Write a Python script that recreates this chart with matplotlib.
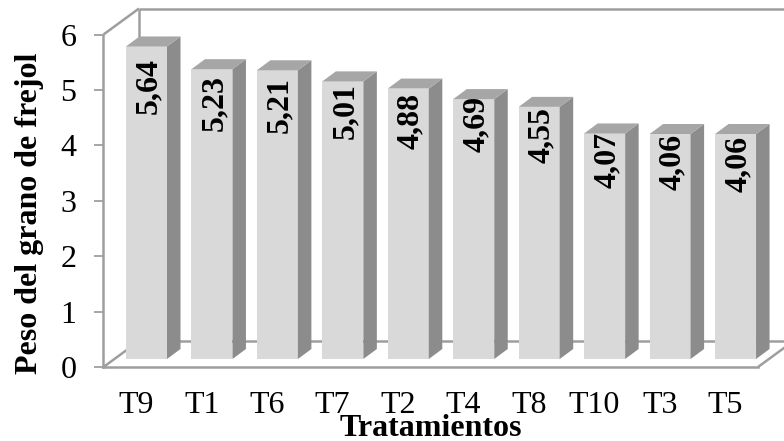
import matplotlib
matplotlib.use("Agg")
import matplotlib.pyplot as plt
from matplotlib.patches import Polygon

plt.rcParams["font.family"] = ["Liberation Serif", "DejaVu Serif"]

categories = ["T9", "T1", "T6", "T7", "T2", "T4", "T8", "T10", "T3", "T5"]
weights = [5.64, 5.23, 5.21, 5.01, 4.88, 4.69, 4.55, 4.07, 4.06, 4.06]
value_labels = ["5,64", "5,23", "5,21", "5,01", "4,88", "4,69", "4,55", "4,07", "4,06", "4,06"]
y_ticks = [0, 1, 2, 3, 4, 5, 6]

# hand-placed drop of each value label below its column top, in pixels
label_drops = [39.5, 34, 34.5, 30, 32.5, 24.5, 28, 26.5, 28, 30]

W, H = 784, 441
LEFT, RIGHT, BOTTOM, TOP = 103.5, 758.0, 367.0, 34.5
FRONT = "#D9D9D9"
SIDE = "#8C8C8C"
CAP = "#A6A6A6"
FRAME = "#9E9E9E"

fig = plt.figure(figsize=(W / 100, H / 100), dpi=100, facecolor="white")
ax = fig.add_axes([LEFT / W, 1 - BOTTOM / H, (RIGHT - LEFT) / W, (BOTTOM - TOP) / H])
ax.set_xlim(0, len(categories))
ax.set_ylim(0, 6)

# pixel sizes expressed in data units, for the oblique projection
px_x = len(categories) / (RIGHT - LEFT)
px_y = 6 / (BOTTOM - TOP)
wall_dx, wall_dy = 35.5 * px_x, 26 * px_y
bar_dx, bar_dy = 13.5 * px_x, 10 * px_y
bar_left, bar_width, bar_base = 22.5 * px_x, 41 * px_x, 8 * px_y

# back wall and floor of the box
lw = 1.8
frame_lines = [
    ([0, wall_dx], [6, 6 + wall_dy]),
    ([wall_dx, wall_dx], [wall_dy, 6 + wall_dy]),
    ([wall_dx, 12], [6 + wall_dy, 6 + wall_dy]),
    ([0, wall_dx], [0, wall_dy]),
    ([wall_dx, 12], [wall_dy, wall_dy]),
    ([10, 10 + wall_dx], [0, wall_dy]),
]
for xs, ys in frame_lines:
    ax.plot(xs, ys, color=FRAME, lw=lw, clip_on=False, zorder=1, solid_capstyle="butt")

# extruded columns: front face, side face and top cap
for i, value in enumerate(weights):
    x0 = i + bar_left
    x1 = x0 + bar_width
    y0 = bar_base
    y1 = bar_base + value
    ax.bar(x0, value, width=bar_width, bottom=y0, align="edge", color=FRONT, zorder=3, clip_on=False)
    ax.add_patch(Polygon([(x1, y0), (x1 + bar_dx, y0 + bar_dy), (x1 + bar_dx, y1 + bar_dy), (x1, y1)],
                         closed=True, fc=SIDE, ec="none", zorder=3, clip_on=False))
    ax.add_patch(Polygon([(x0, y1), (x1, y1), (x1 + bar_dx, y1 + bar_dy), (x0 + bar_dx, y1 + bar_dy)],
                         closed=True, fc=CAP, ec="none", zorder=3, clip_on=False))
    ax.text(x0 + bar_width / 2 + 2.5 * px_x, y1 - label_drops[i] * px_y, value_labels[i], rotation=90,
            ha="center", va="center", rotation_mode="anchor", fontsize=23, fontweight="bold",
            color="black", zorder=4, clip_on=False)

for side in ("top", "right"):
    ax.spines[side].set_visible(False)
for side in ("left", "bottom"):
    ax.spines[side].set_color(FRAME)
    ax.spines[side].set_linewidth(lw)

ax.set_yticks(y_ticks)
ax.tick_params(axis="y", length=6.5, width=1.3, color=FRAME, labelsize=23, pad=13)
ax.set_xticks([i + 0.5 for i in range(len(categories))])
ax.set_xticklabels(categories)
ax.tick_params(axis="x", length=0, labelsize=23, pad=17)

fig.text(30 / W, 1 - 213 / H, "Peso del grano de frejol", rotation=90, ha="center", va="center",
         fontsize=23, fontweight="bold")
fig.text(431 / W, 1 - 428 / H, "Tratamientos", ha="center", va="center", fontsize=23, fontweight="bold")

fig.savefig("out.png", dpi=100)
